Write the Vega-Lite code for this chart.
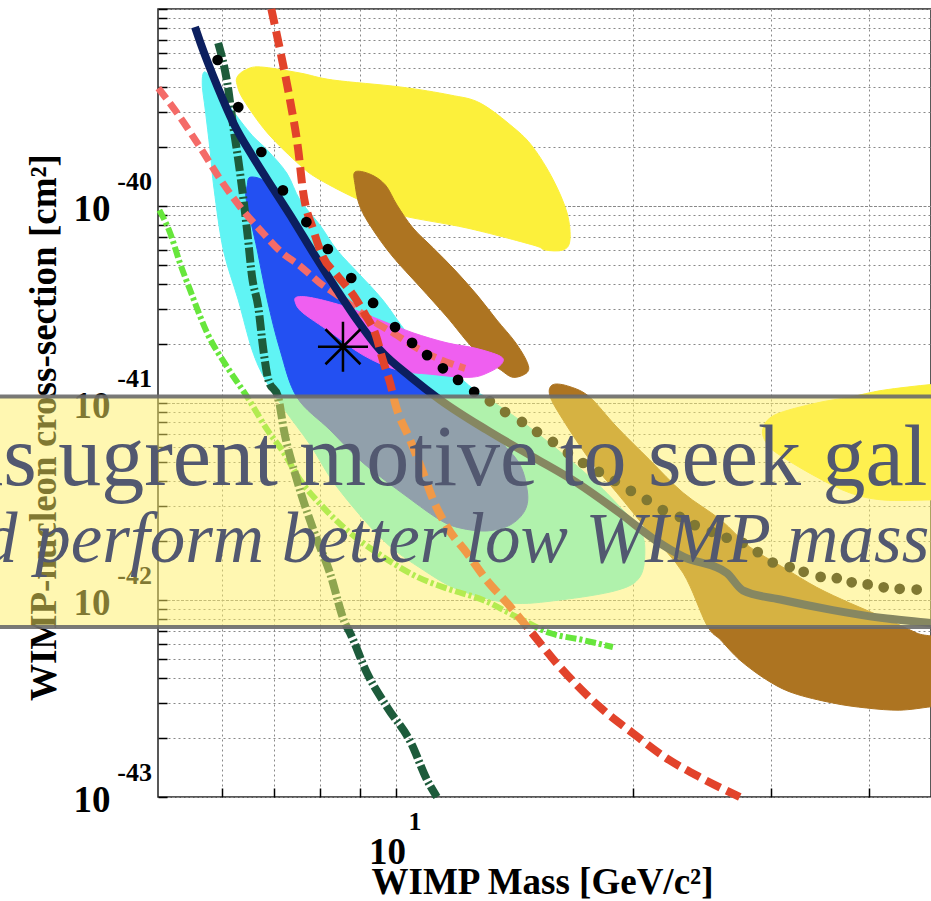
{
  "$schema": "https://vega.github.io/schema/vega-lite/v6.json",
  "width": 773,
  "height": 788,
  "autosize": {"type": "none"},
  "padding": {"left": 158, "top": 9, "right": 0, "bottom": 104},
  "background": "white",
  "config": {"view": {"stroke": "#222", "strokeWidth": 1.5}},
  "encoding": {
    "x": {
      "field": "m", "type": "quantitative",
      "scale": {"type": "log", "domain": [4.98, 47.9], "nice": false},
      "axis": {
        "title": "WIMP Mass [GeV/c²]",
        "values": [6, 7, 8, 9, 10, 20, 30, 40],
        "labelExpr": "datum.value == 10 ? '10' : ''",
        "labelFont": "Liberation Serif", "labelFontWeight": "bold", "labelFontSize": 37, "labelColor": "#000",
        "labelBaseline": "alphabetic", "labelAlign": "center", "labelPadding": 75, "labelOffset": -9,
        "labelOverlap": false, "labelFlush": false, "labelBound": false,
        "tickSize": -9, "tickColor": "#000", "tickWidth": 1.5,
        "grid": true, "gridColor": "#888", "gridDash": [2, 3], "gridWidth": 1,
        "domain": false, "zindex": 0,
        "titleFont": "Liberation Serif", "titleFontWeight": "bold", "titleFontSize": 37, "titleColor": "#000",
        "titleX": 384, "titleY": 96, "titleBaseline": "alphabetic", "titleAlign": "center"
      }
    },
    "y": {
      "field": "s", "type": "quantitative",
      "scale": {"type": "log", "domain": [1e-43, 1e-39], "nice": false},
      "axis": {
        "title": "WIMP-nucleon cross-section [cm²]",
        "values": [1e-43, 2e-43, 3e-43, 4e-43, 5e-43, 6e-43, 7e-43, 8e-43, 9e-43, 1e-42, 2e-42, 3e-42, 4e-42, 5e-42, 6e-42, 7e-42, 8e-42, 9e-42, 1e-41, 2e-41, 3e-41, 4e-41, 5e-41, 6e-41, 7e-41, 8e-41, 9e-41, 1e-40, 2e-40, 3e-40, 4e-40, 5e-40, 6e-40, 7e-40, 8e-40, 9e-40, 1e-39],
        "labelExpr": "(abs(log(datum.value)/LN10 - round(log(datum.value)/LN10)) < 0.01 && datum.value < 5e-40) ? '10' : ''",
        "labelFont": "Liberation Serif", "labelFontWeight": "bold", "labelFontSize": 37, "labelColor": "#000",
        "labelAlign": "right", "labelBaseline": "alphabetic", "labelOffset": 14, "labelPadding": 57,
        "labelOverlap": false, "labelFlush": false, "labelBound": false,
        "tickSize": -9, "tickColor": "#000", "tickWidth": 1.5,
        "grid": true, "gridColor": "#888", "gridWidth": 1,
        "gridDash": {"condition": {"test": "abs(log(datum.value)/LN10 - round(log(datum.value)/LN10)) < 0.01", "value": [3, 1.5]}, "value": [2, 3]},
        "domain": false, "zindex": 0,
        "titleFont": "Liberation Serif", "titleFontWeight": "bold", "titleFontSize": 37, "titleColor": "#000",
        "titleX": -103, "titleY": 418, "titleAngle": -90, "titleBaseline": "alphabetic", "titleAlign": "center"
      }
    }
  },
  "layer": [
    {
      "data": {"values": [{"m":6.28,"s":4.52e-40},{"m":6.43,"s":4.90e-40},{"m":6.72,"s":5.08e-40},{"m":7.55,"s":4.73e-40},{"m":8.31,"s":4.36e-40},{"m":10.12,"s":4.02e-40},{"m":11.71,"s":3.66e-40},{"m":12.79,"s":3.33e-40},{"m":14.09,"s":2.51e-40},{"m":14.93,"s":1.99e-40},{"m":15.84,"s":1.36e-40},{"m":16.50,"s":9.21e-41},{"m":16.64,"s":6.72e-41},{"m":16.31,"s":5.98e-41},{"m":15.46,"s":5.98e-41},{"m":14.93,"s":6.34e-41},{"m":12.31,"s":7.73e-41},{"m":10.12,"s":8.99e-41},{"m":9.00,"s":1.07e-40},{"m":8.00,"s":1.36e-40},{"m":7.55,"s":1.61e-40},{"m":6.86,"s":2.35e-40},{"m":6.40,"s":3.45e-40},{"m":6.28,"s":4.11e-40}]},
      "mark": {"type": "line", "interpolate": "cardinal-closed", "fill": "#fcf03b", "stroke": "#fcf03b", "strokeWidth": 1},
      "encoding": {"order": {"value": null}}
    },
    {
      "data": {"values": [{"m":5.70,"s":4.79e-40},{"m":5.84,"s":4.36e-40},{"m":6.06,"s":3.45e-40},{"m":6.52,"s":2.35e-40},{"m":6.86,"s":1.92e-40},{"m":7.26,"s":1.47e-40},{"m":7.55,"s":1.07e-40},{"m":8.00,"s":8.01e-41},{"m":8.41,"s":5.98e-41},{"m":9.00,"s":4.46e-41},{"m":9.62,"s":3.33e-41},{"m":10.51,"s":2.09e-41},{"m":11.54,"s":1.56e-41},{"m":12.60,"s":1.16e-41},{"m":13.16,"s":1.04e-41},{"m":14.93,"s":7.30e-42},{"m":17.64,"s":4.21e-42},{"m":19.26,"s":2.97e-42},{"m":20.42,"s":2.27e-42},{"m":20.72,"s":1.79e-42},{"m":20.42,"s":1.31e-42},{"m":19.09,"s":1.12e-42},{"m":16.16,"s":1.00e-42},{"m":13.96,"s":9.66e-43},{"m":12.06,"s":1.12e-42},{"m":10.83,"s":1.42e-42},{"m":9.62,"s":2.02e-42},{"m":8.41,"s":3.75e-42},{"m":7.78,"s":6.12e-42},{"m":7.22,"s":9.21e-42},{"m":6.82,"s":1.31e-41},{"m":6.56,"s":1.86e-41},{"m":6.30,"s":3.33e-41},{"m":6.03,"s":5.98e-41},{"m":5.87,"s":1.21e-40},{"m":5.80,"s":1.92e-40},{"m":5.72,"s":3.07e-40},{"m":5.67,"s":4.11e-40}]},
      "mark": {"type": "line", "interpolate": "cardinal-closed", "fill": "#60f4f4", "stroke": "#60f4f4", "strokeWidth": 1},
      "encoding": {"order": {"value": null}}
    },
    {
      "data": {"values": [{"m":6.52,"s":1.40e-40},{"m":6.76,"s":1.36e-40},{"m":6.99,"s":1.21e-40},{"m":7.40,"s":8.49e-41},{"m":7.85,"s":5.77e-41},{"m":8.41,"s":3.75e-41},{"m":8.92,"s":2.64e-41},{"m":9.54,"s":1.86e-41},{"m":10.45,"s":1.35e-41},{"m":11.37,"s":1.04e-41},{"m":12.90,"s":7.55e-42},{"m":14.25,"s":5.14e-42},{"m":14.68,"s":3.62e-42},{"m":14.59,"s":2.86e-42},{"m":13.96,"s":2.40e-42},{"m":13.04,"s":2.24e-42},{"m":12.06,"s":2.32e-42},{"m":11.37,"s":2.55e-42},{"m":10.33,"s":3.34e-42},{"m":9.08,"s":4.96e-42},{"m":8.24,"s":7.30e-42},{"m":7.48,"s":1.07e-41},{"m":7.12,"s":1.86e-41},{"m":6.86,"s":3.33e-41},{"m":6.66,"s":5.98e-41},{"m":6.45,"s":1.07e-40},{"m":6.47,"s":1.28e-40}]},
      "mark": {"type": "line", "interpolate": "cardinal-closed", "fill": "#2350f2", "stroke": "#2350f2", "strokeWidth": 1},
      "encoding": {"order": {"value": null}}
    },
    {
      "data": {"values": [{"m":8.87,"s":1.49e-40},{"m":9.27,"s":1.45e-40},{"m":9.69,"s":1.28e-40},{"m":10.03,"s":1.01e-40},{"m":10.51,"s":7.73e-41},{"m":11.15,"s":6.12e-41},{"m":11.88,"s":4.73e-41},{"m":12.68,"s":3.53e-41},{"m":13.43,"s":2.64e-41},{"m":14.17,"s":2.04e-41},{"m":14.68,"s":1.61e-41},{"m":14.68,"s":1.43e-41},{"m":14.09,"s":1.35e-41},{"m":13.56,"s":1.48e-41},{"m":13.04,"s":1.65e-41},{"m":12.42,"s":1.97e-41},{"m":11.61,"s":2.73e-41},{"m":10.73,"s":3.88e-41},{"m":9.91,"s":5.51e-41},{"m":9.35,"s":7.55e-41},{"m":9.00,"s":9.88e-41},{"m":8.87,"s":1.28e-40}]},
      "mark": {"type": "line", "interpolate": "cardinal-closed", "fill": "#ad7421", "stroke": "#ad7421", "strokeWidth": 1},
      "encoding": {"order": {"value": null}}
    },
    {
      "data": {"values": [{"m":15.84,"s":1.24e-41},{"m":16.64,"s":1.21e-41},{"m":17.64,"s":1.07e-41},{"m":19.09,"s":7.55e-42},{"m":21.02,"s":5.14e-42},{"m":23.18,"s":3.50e-42},{"m":25.88,"s":2.55e-42},{"m":28.17,"s":1.86e-42},{"m":31.02,"s":1.47e-42},{"m":34.27,"s":1.16e-42},{"m":37.75,"s":9.66e-43},{"m":41.58,"s":8.19e-43},{"m":45.93,"s":6.80e-43},{"m":49.85,"s":5.91e-43},{"m":49.85,"s":2.93e-43},{"m":47.83,"s":2.87e-43},{"m":43.70,"s":2.76e-43},{"m":39.66,"s":2.83e-43},{"m":35.92,"s":3.00e-43},{"m":31.99,"s":3.37e-43},{"m":29.61,"s":3.93e-43},{"m":27.36,"s":4.96e-43},{"m":25.88,"s":6.26e-43},{"m":24.84,"s":7.46e-43},{"m":23.18,"s":1.37e-42},{"m":21.02,"s":2.19e-42},{"m":19.09,"s":3.50e-42},{"m":17.64,"s":5.14e-42},{"m":16.31,"s":8.20e-42},{"m":15.69,"s":1.09e-41}]},
      "mark": {"type": "line", "interpolate": "cardinal-closed", "fill": "#ad7421", "stroke": "#ad7421", "strokeWidth": 1},
      "encoding": {"order": {"value": null}}
    },
    {
      "data": {"values": [{"m":29.26,"s":7.30e-42},{"m":30.31,"s":8.69e-42},{"m":34.27,"s":1.00e-41},{"m":37.75,"s":1.07e-41},{"m":41.58,"s":1.16e-41},{"m":47.83,"s":1.24e-41},{"m":49.85,"s":1.24e-41},{"m":49.85,"s":3.22e-42},{"m":47.83,"s":3.22e-42},{"m":41.58,"s":3.22e-42},{"m":37.75,"s":3.50e-42},{"m":34.27,"s":4.21e-42},{"m":31.02,"s":5.32e-42},{"m":29.70,"s":6.12e-42}]},
      "mark": {"type": "line", "interpolate": "cardinal-closed", "fill": "#fcf03b", "stroke": "#fcf03b", "strokeWidth": 1},
      "encoding": {"order": {"value": null}}
    },
    {
      "data": {"values": [{"m":7.48,"s":3.45e-41},{"m":7.85,"s":3.41e-41},{"m":8.66,"s":3.07e-41},{"m":9.54,"s":2.64e-41},{"m":10.51,"s":2.27e-41},{"m":11.61,"s":2.02e-41},{"m":12.60,"s":1.90e-41},{"m":13.56,"s":1.73e-41},{"m":13.64,"s":1.59e-41},{"m":13.16,"s":1.44e-41},{"m":12.42,"s":1.35e-41},{"m":11.05,"s":1.40e-41},{"m":10.03,"s":1.47e-41},{"m":9.08,"s":1.75e-41},{"m":8.24,"s":2.30e-41},{"m":7.61,"s":2.87e-41},{"m":7.45,"s":3.22e-41}]},
      "mark": {"type": "line", "interpolate": "cardinal-closed", "fill": "#ef5ff0", "stroke": "#ef5ff0", "strokeWidth": 1},
      "encoding": {"order": {"value": null}}
    },
    {
      "data": {"values": [{"m":5.0,"s":9.54e-41},{"m":5.16,"s":7.29e-41},{"m":5.31,"s":5.14e-41},{"m":5.47,"s":3.75e-41},{"m":5.75,"s":2.27e-41},{"m":6.10,"s":1.52e-41},{"m":6.47,"s":1.07e-41},{"m":6.86,"s":7.30e-42},{"m":7.20,"s":5.58e-42},{"m":7.55,"s":4.07e-42},{"m":8.07,"s":2.97e-42},{"m":8.74,"s":2.19e-42},{"m":9.62,"s":1.66e-42},{"m":10.64,"s":1.31e-42},{"m":11.71,"s":1.13e-42},{"m":12.90,"s":1.00e-42},{"m":14.25,"s":8.19e-43},{"m":15.69,"s":6.80e-43},{"m":17.29,"s":6.26e-43},{"m":18.87,"s":5.77e-43}]},
      "mark": {"type": "line", "interpolate": "monotone", "color": "#67e63c", "strokeWidth": 6, "strokeDash": [11, 3, 3, 3], "strokeCap": "butt"},
      "encoding": {"order": {"value": null}}
    },
    {
      "data": {"values": [{"m":5.94,"s":6.72e-40},{"m":6.10,"s":4.21e-40},{"m":6.21,"s":2.51e-40},{"m":6.30,"s":1.71e-40},{"m":6.38,"s":1.17e-40},{"m":6.47,"s":7.29e-41},{"m":6.56,"s":4.36e-41},{"m":6.68,"s":3.07e-41},{"m":6.78,"s":1.86e-41},{"m":6.88,"s":1.31e-41},{"m":7.08,"s":1.07e-41},{"m":7.20,"s":7.30e-42},{"m":7.48,"s":4.07e-42},{"m":7.85,"s":2.27e-42},{"m":8.24,"s":1.37e-42},{"m":8.61,"s":7.64e-43},{"m":8.74,"s":6.80e-43},{"m":9.18,"s":4.27e-43},{"m":9.74,"s":2.86e-43},{"m":10.45,"s":1.88e-43},{"m":10.95,"s":1.22e-43},{"m":11.27,"s":1.0e-43}]},
      "mark": {"type": "line", "interpolate": "monotone", "color": "#1d5b3b", "strokeWidth": 8, "strokeDash": [15, 3, 2, 3], "strokeCap": "butt"},
      "encoding": {"order": {"value": null}}
    },
    {
      "data": {"values": [{"m":4.985,"s":3.97e-40},{"m":5.31,"s":2.83e-40},{"m":5.64,"s":1.97e-40},{"m":5.98,"s":1.36e-40},{"m":6.34,"s":9.86e-41},{"m":6.72,"s":7.55e-41},{"m":7.12,"s":5.91e-41},{"m":7.55,"s":4.96e-41},{"m":8.00,"s":4.07e-41},{"m":8.49,"s":3.45e-41},{"m":9.18,"s":2.73e-41},{"m":9.91,"s":2.27e-41},{"m":10.73,"s":1.86e-41},{"m":11.71,"s":1.59e-41},{"m":12.24,"s":1.50e-41}]},
      "mark": {"type": "line", "interpolate": "monotone", "color": "#f46b68", "strokeWidth": 7, "strokeDash": [13, 6], "strokeCap": "butt"},
      "encoding": {"order": {"value": null}}
    },
    {
      "data": {"values": [{"m":5.55,"s":8.10e-40},{"m":5.64,"s":6.72e-40},{"m":5.93,"s":4.02e-40},{"m":6.21,"s":2.64e-40},{"m":6.58,"s":1.77e-40},{"m":6.99,"s":1.21e-40},{"m":7.40,"s":8.49e-41},{"m":7.85,"s":5.77e-41},{"m":8.41,"s":3.75e-41},{"m":8.92,"s":2.64e-41},{"m":9.54,"s":1.86e-41},{"m":10.45,"s":1.35e-41},{"m":11.37,"s":1.04e-41},{"m":13.04,"s":7.30e-42},{"m":14.93,"s":5.32e-42},{"m":16.99,"s":3.93e-42},{"m":19.26,"s":2.76e-42},{"m":21.34,"s":2.02e-42},{"m":23.18,"s":1.66e-42},{"m":26.34,"s":1.37e-42},{"m":27.60,"s":1.12e-42},{"m":31.02,"s":1.00e-42},{"m":35.92,"s":8.89e-43},{"m":41.58,"s":8.10e-43},{"m":47.83,"s":7.64e-43},{"m":49.85,"s":7.46e-43}]},
      "mark": {"type": "line", "interpolate": "monotone", "color": "#0c1f5f", "strokeWidth": 8},
      "encoding": {"order": {"value": null}}
    },
    {
      "data": {"values": [{"m":6.94,"s":1.0e-39},{"m":7.12,"s":6.19e-40},{"m":7.33,"s":3.45e-40},{"m":7.51,"s":1.92e-40},{"m":7.61,"s":1.21e-40},{"m":7.85,"s":7.55e-41},{"m":8.05,"s":5.64e-41},{"m":8.41,"s":4.46e-41},{"m":8.82,"s":3.53e-41},{"m":9.14,"s":2.80e-41},{"m":9.42,"s":2.22e-41},{"m":9.62,"s":1.65e-41},{"m":9.83,"s":1.26e-41},{"m":9.97,"s":1.00e-41},{"m":10.42,"s":6.49e-42},{"m":10.83,"s":4.41e-42},{"m":11.15,"s":3.22e-42},{"m":11.61,"s":2.35e-42},{"m":12.31,"s":1.73e-42},{"m":13.04,"s":1.26e-42},{"m":13.84,"s":9.66e-43},{"m":14.68,"s":7.29e-43},{"m":16.16,"s":4.57e-43},{"m":18.16,"s":2.86e-43},{"m":20.00,"s":2.11e-43},{"m":21.99,"s":1.59e-43},{"m":24.34,"s":1.26e-43},{"m":27.36,"s":1.0e-43}]},
      "mark": {"type": "line", "interpolate": "monotone", "color": "#e2432b", "strokeWidth": 8, "strokeDash": [16, 7], "strokeCap": "butt"},
      "encoding": {"order": {"value": null}}
    },
    {
      "data": {"values": [{"m":5.93,"s":5.51e-40},{"m":6.30,"s":3.18e-40},{"m":6.74,"s":1.88e-40},{"m":7.18,"s":1.20e-40},{"m":7.69,"s":8.29e-41},{"m":8.19,"s":6.05e-41},{"m":8.77,"s":4.31e-41},{"m":9.35,"s":3.22e-41},{"m":9.97,"s":2.43e-41},{"m":10.48,"s":2.02e-41},{"m":10.95,"s":1.75e-41},{"m":11.47,"s":1.50e-41},{"m":11.99,"s":1.31e-41},{"m":12.57,"s":1.14e-41},{"m":13.16,"s":1.02e-41},{"m":13.76,"s":9.00e-42},{"m":14.46,"s":8.01e-42},{"m":15.11,"s":7.13e-42},{"m":15.83,"s":6.34e-42},{"m":16.54,"s":5.58e-42},{"m":17.29,"s":4.96e-42},{"m":18.11,"s":4.47e-42},{"m":18.98,"s":4.02e-42},{"m":19.89,"s":3.58e-42},{"m":20.84,"s":3.22e-42},{"m":21.84,"s":2.86e-42},{"m":22.96,"s":2.64e-42},{"m":23.98,"s":2.40e-42},{"m":25.21,"s":2.22e-42},{"m":26.33,"s":2.07e-42},{"m":27.60,"s":1.95e-42},{"m":28.84,"s":1.75e-42},{"m":30.13,"s":1.55e-42},{"m":31.67,"s":1.47e-42},{"m":32.99,"s":1.39e-42},{"m":34.67,"s":1.31e-42},{"m":36.35,"s":1.29e-42},{"m":37.97,"s":1.23e-42},{"m":39.79,"s":1.20e-42},{"m":41.70,"s":1.16e-42},{"m":43.70,"s":1.14e-42},{"m":45.93,"s":1.13e-42}]},
      "mark": {"type": "circle", "color": "#000", "size": 115, "opacity": 1}
    },
    {
      "data": {"values": [{"m": 8.56, "s": 1.93e-41}]},
      "mark": {"type": "point", "shape": "M-1,0H1M0,-1V1M-0.7,-0.7L0.7,0.7M-0.7,0.7L0.7,-0.7", "size": 2500, "filled": false, "stroke": "#000", "strokeWidth": 2.5, "opacity": 1}
    },
    {
      "data": {"values": [{"m": 4.98, "s": 1e-40, "t": "-40"}, {"m": 4.98, "s": 1e-41, "t": "-41"}, {"m": 4.98, "s": 1e-42, "t": "-42"}, {"m": 4.98, "s": 1e-43, "t": "-43"}]},
      "mark": {"type": "text", "font": "Liberation Serif", "fontWeight": "bold", "fontSize": 26, "align": "right", "baseline": "alphabetic", "dx": -6, "dy": -16, "color": "#000"},
      "encoding": {"text": {"field": "t"}}
    },
    {
      "data": {"values": [{"m": 10, "s": 1e-43, "t": "1"}]},
      "mark": {"type": "text", "font": "Liberation Serif", "fontWeight": "bold", "fontSize": 26, "align": "center", "baseline": "alphabetic", "dx": 19, "dy": 33, "color": "#000"},
      "encoding": {"text": {"field": "t"}}
    },
    {
      "data": {"values": [{"m": 3, "m2": 60, "s": 1.08e-41, "s2": 7.29e-43}]},
      "mark": {"type": "rect", "fill": "#fff064", "fillOpacity": 0.5, "stroke": "#6a6a6a", "strokeWidth": 4, "strokeOpacity": 0.9},
      "encoding": {"x2": {"field": "m2"}, "y2": {"field": "s2"}}
    },
    {
      "data": {"values": [{"m": 2.83, "s": 3.84e-42, "t": "as ugrent motive to seek gal"}]},
      "mark": {"type": "text", "font": "Liberation Serif", "fontSize": 86, "align": "left", "baseline": "alphabetic", "color": "#525870"},
      "encoding": {"text": {"field": "t"}}
    },
    {
      "data": {"values": [{"m": 2.975, "s": 1.56e-42, "t": "d perform better low WIMP mass"}]},
      "mark": {"type": "text", "font": "Liberation Serif", "fontStyle": "italic", "fontSize": 71, "align": "left", "baseline": "alphabetic", "color": "#525870"},
      "encoding": {"text": {"field": "t"}}
    }
  ]
}
